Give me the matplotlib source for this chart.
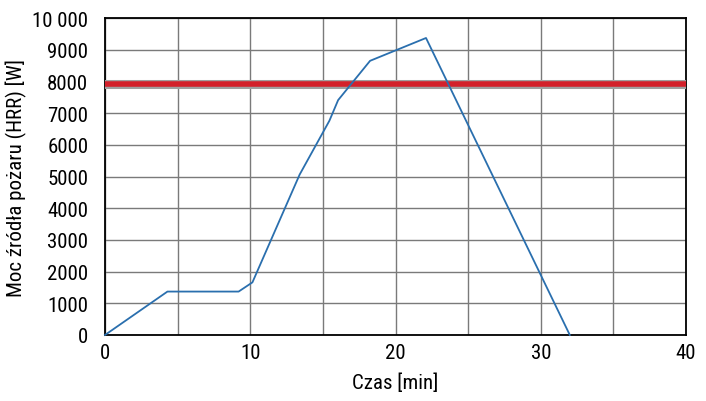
import matplotlib
matplotlib.use('Agg')
import matplotlib.pyplot as plt
from matplotlib.ticker import MultipleLocator, FuncFormatter

plt.rcParams['font.family'] = ['Roboto Condensed', 'DejaVu Sans']

# dane
czas = [0, 4.3, 9.2, 10.15, 13.4, 15.45, 16.05, 18.25, 22.1, 32.0]
moc = [0, 1370, 1370, 1660, 5060, 6760, 7410, 8650, 9370, 0]
prog = 7920

fig = plt.figure(figsize=(7.06, 4.02), dpi=100)
ax = fig.add_axes([0.1487, 0.1642, 0.8230, 0.7885])

ax.axhline(prog, color='#a0a0a0', lw=6.5, zorder=3)
ax.axhline(prog, color='#d3202a', lw=4, zorder=4)
ax.plot(czas, moc, color='#2a6fae', lw=1.3, zorder=5, clip_on=False)

ax.set_xlim(0, 40)
ax.set_ylim(0, 10000)
ax.xaxis.set_major_locator(MultipleLocator(10))
ax.xaxis.set_minor_locator(MultipleLocator(5))
ax.yaxis.set_major_locator(MultipleLocator(1000))
ax.yaxis.set_major_formatter(FuncFormatter(
    lambda v, p: '10 000' if v >= 10000 else f'{int(v)}'))

ax.grid(True, which='both', color='#7a7a7a', lw=1)
ax.set_axisbelow(True)
ax.tick_params(which='both', length=0, labelsize=15)
ax.tick_params(axis='x', pad=6)
ax.tick_params(axis='y', pad=12)
for s in ax.spines.values():
    s.set_color('black')
    s.set_linewidth(1.3)

ax.set_xlabel('Czas [min]', fontsize=15, labelpad=7)
ax.set_ylabel('Moc źródła pożaru (HRR) [W]', fontsize=15, labelpad=4)

fig.savefig('out.png', dpi=100)
